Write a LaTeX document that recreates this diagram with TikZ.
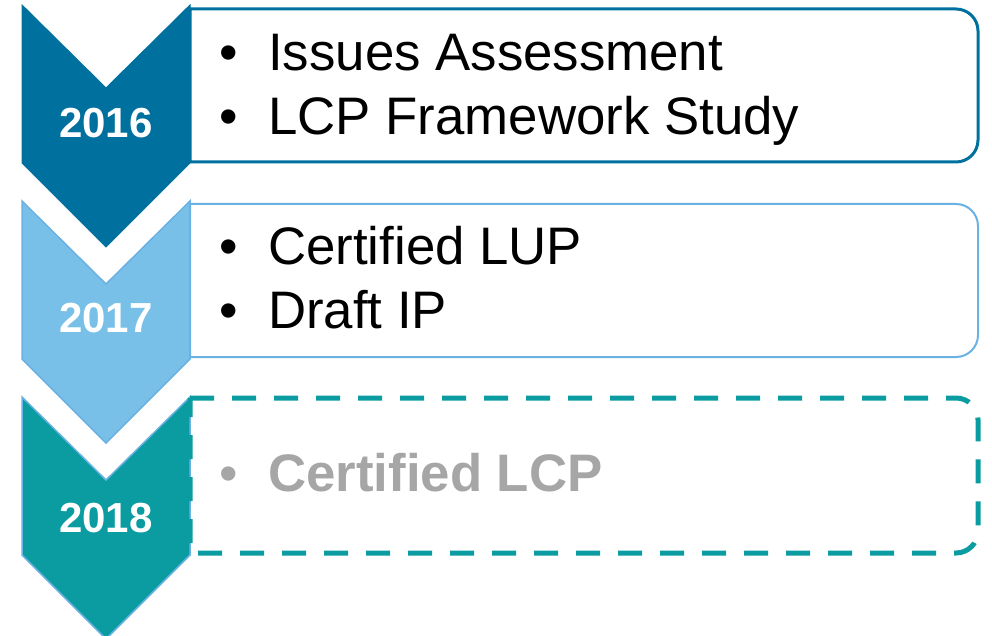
\documentclass[tikz,border=0pt]{standalone}
\usepackage{fontspec}
\setmainfont{Liberation Sans}
\definecolor{darkblue}{HTML}{00709E}
\definecolor{lightblue}{HTML}{79C0E8}
\definecolor{lightedge}{HTML}{6AB2E3}
\definecolor{tealfill}{HTML}{0A9CA1}
\definecolor{greytext}{HTML}{A6A6A6}
\begin{document}
\begin{tikzpicture}[x=1pt,y=1pt,
        year/.style={anchor=base,inner sep=0pt,text=white,font=\fontsize{42}{48}\selectfont\bfseries},
        item/.style={anchor=base west,inner sep=0pt,font=\fontsize{52.8}{60}\selectfont},
        dot/.style={anchor=base west,inner sep=0pt,font=\fontsize{52.8}{60}\selectfont}]
        \useasboundingbox (0,0) rectangle (992,635);
        % chevrons
        \filldraw[fill=darkblue,draw=darkblue,line width=1pt] (22,630) -- (106,547) -- (190,630) -- (190,472) -- (106,388) -- (22,472) -- cycle;
        \filldraw[fill=lightblue,draw=lightedge,line width=1.5pt] (22,434) -- (106,351) -- (190,434) -- (190,276) -- (106,192) -- (22,276) -- cycle;
        \filldraw[fill=tealfill,draw=lightedge,line width=1.5pt] (22,238) -- (106,155) -- (190,238) -- (190,80) -- (106,-4) -- (22,80) -- cycle;
        % boxes
        \draw[darkblue,line width=3pt] (190,626) -- (956,626) arc[start angle=90,end angle=0,radius=22] -- (978,495) arc[start angle=0,end angle=-90,radius=22] -- (190,473) -- cycle;
        \draw[lightedge,line width=2pt] (190,431) -- (956,431) arc[start angle=90,end angle=0,radius=22] -- (978,300) arc[start angle=0,end angle=-90,radius=22] -- (190,278) -- cycle;
        \draw[tealfill,line width=5pt,dash pattern=on 24pt off 18pt] (190,237) -- (956,237) arc[start angle=90,end angle=0,radius=22] -- (978,104) arc[start angle=0,end angle=-90,radius=22] -- (190,82) -- cycle;
        % years
        \node[year] (y2016) at (106,497) {2016};
        \node[year] (y2017) at (106,302) {2017};
        \node[year] (y2018) at (106,103) {2018};
        % items
        \node[dot] (d1) at (219,564) {•};
        \node[item] (issues) at (268,564) {Issues Assessment};
        \node[dot] (d2) at (219,500) {•};
        \node[item] (framework) at (268,500) {LCP Framework Study};
        \node[dot] (d3) at (219,370) {•};
        \node[item] (lup) at (268,370) {Certified LUP};
        \node[dot] (d4) at (219,306) {•};
        \node[item] (draftip) at (268,306) {Draft IP};
        \node[dot,text=greytext] (d5) at (219,144) {•};
        \node[item,text=greytext,font=\fontsize{52.8}{60}\selectfont\bfseries] (lcp) at (268,144) {Certified LCP};
\end{tikzpicture}
\end{document}
